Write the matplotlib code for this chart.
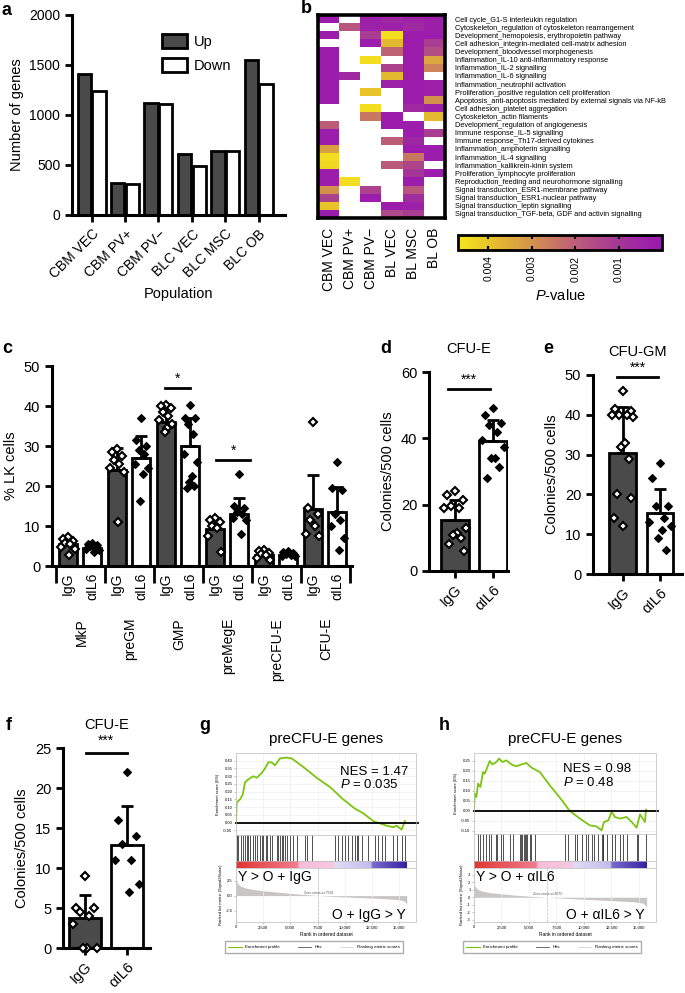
import numpy as np
import matplotlib
matplotlib.use('Agg')
import matplotlib.pyplot as plt
import matplotlib.transforms as mtransforms
from matplotlib.colors import LinearSegmentedColormap
from matplotlib.lines import Line2D

plt.rcParams['font.family'] = ['Liberation Sans', 'DejaVu Sans']
plt.rcParams['mathtext.fontset'] = 'custom'
plt.rcParams['mathtext.it'] = 'Liberation Sans:italic'
plt.rcParams['mathtext.rm'] = 'Liberation Sans'

# ---- panel a
populations = ['CBM VEC', 'CBM PV+', 'CBM PV\u2212', 'BLC VEC', 'BLC MSC', 'BLC OB']
genes_up = [1410, 315, 1120, 610, 635, 1545]
genes_down = [1235, 310, 1110, 490, 635, 1310]

# ---- panel b
hm_cols = ['CBM VEC', 'CBM PV+', 'CBM PV\u2212', 'BL VEC', 'BL MSC', 'BL OB']
hm_rows = ['Cell cycle_G1-S interleukin regulation',
           'Cytoskeleton_regulation of cytoskeleton rearrangement',
           'Development_hemopoiesis, erythropoietin pathway',
           'Cell adhesion_integrin-mediated cell-matrix adhesion',
           'Development_bloodvessel morphogenesis',
           'Inflammation_IL-10 anti-inflammatory response',
           'Inflammation_IL-2 signalling',
           'Inflammation_IL-6 signalling',
           'Inflammation_neutrophil activation',
           'Proliferation_positive regulation cell proliferation',
           'Apoptosis_anti-apoptosis mediated by external signals via NF-kB',
           'Cell adhesion_platelet aggregation',
           'Cytoskeleton_actin filaments',
           'Development_regulation of angiogenesis',
           'Immune response_IL-5 signalling',
           'Immune response_Th17-derived cytokines',
           'Inflammation_amphoterin signalling',
           'Inflammation_IL-4 signalling',
           'Inflammation_kallikrein-kinin system',
           'Proliferation_lymphocyte proliferation',
           'Reproduction_feeding and neurohormone signalling',
           'Signal transduction_ESR1-membrane pathway',
           'Signal transduction_ESR1-nuclear pathway',
           'Signal transduction_leptin signalling',
           'Signal transduction_TGF-beta, GDF and activin signalling']
N = None
hm_pvals = [
    [0.0002, N, 0.0003, 0.0006, 0.0004, 0.0003],
    [N, 0.0018, 0.0003, 0.0003, 0.0006, 0.0003],
    [0.0002, N, 0.0012, 0.0045, 0.0002, 0.0002],
    [N, N, 0.0002, 0.0038, 0.0002, 0.0012],
    [0.0002, N, N, 0.0021, 0.0002, 0.0016],
    [0.0002, N, 0.0045, N, 0.0002, 0.0034],
    [0.0002, N, N, 0.0013, 0.0002, 0.0027],
    [0.0002, 0.0006, N, 0.0038, 0.0002, N],
    [0.0002, N, N, 0.0003, 0.0002, 0.0003],
    [0.0002, N, 0.0040, N, 0.0002, 0.0003],
    [0.0002, N, N, N, 0.0002, 0.0030],
    [N, N, 0.0045, N, 0.0006, 0.0003],
    [N, N, 0.0025, 0.0002, N, 0.0038],
    [0.0020, N, N, 0.0002, 0.0002, N],
    [0.0002, N, N, N, 0.0002, 0.0012],
    [0.0002, N, N, 0.0020, 0.0005, N],
    [0.0033, N, N, N, 0.0002, 0.0002],
    [0.0045, N, N, N, 0.0025, 0.0002],
    [0.0044, N, N, 0.0019, 0.0014, N],
    [0.0002, N, N, N, 0.0010, 0.0002],
    [0.0002, 0.0045, N, N, 0.0002, N],
    [0.0030, N, 0.0013, N, 0.0018, N],
    [0.0013, N, 0.0002, N, 0.0007, N],
    [0.0040, N, N, 0.0002, 0.0003, N],
    [0.0002, N, N, 0.0015, 0.0012, N],
]
cbar_ticks = [0.004, 0.003, 0.002, 0.001]

# ---- panel c
c_groups = ['MkP', 'preGM', 'GMP', 'preMegE', 'preCFU-E', 'CFU-E']
c_treat = ['IgG', '\u03b1IL6']
c_mean = [5.5, 4.5, 24.0, 27.0, 36.0, 30.0, 9.2, 13.1, 2.8, 2.7, 14.2, 13.5]
c_sd = [1.4, 0.9, 5.5, 5.4, 4.0, 7.0, 2.8, 3.9, 0.8, 0.6, 8.5, 6.2]
c_points = [
    [7.2, 6.8, 6.2, 5.8, 5.5, 4.8, 4.2, 2.8],
    [5.8, 5.5, 5.2, 5.0, 4.6, 4.3, 4.0, 3.5],
    [29.3, 28.5, 27.5, 26.5, 25.5, 24.5, 23.5, 11.0],
    [37.0, 31.5, 30.0, 29.0, 28.0, 25.5, 24.5, 23.0, 16.3],
    [40.3, 40.0, 39.5, 38.5, 37.5, 36.5, 35.5, 34.5, 33.5],
    [40.2, 37.0, 37.0, 35.5, 33.0, 28.0, 26.0, 22.5, 21.0, 20.0, 19.5],
    [12.0, 11.5, 11.0, 10.0, 9.5, 7.5, 3.5],
    [23.0, 15.0, 14.5, 13.5, 13.0, 12.0, 11.5, 8.0],
    [4.0, 3.7, 3.3, 3.0, 2.7, 2.0, 1.5],
    [3.8, 3.5, 3.2, 3.0, 2.8, 2.6, 2.4],
    [36.0, 14.5, 13.0, 11.5, 10.0, 8.0, 7.5],
    [26.0, 19.5, 19.0, 13.0, 11.5, 10.0, 7.0, 4.0],
]

# ---- panels d, e, f
d_mean = [15.5, 39.2]
d_sd = [6.0, 6.3]
d_points = [[24, 23, 21.5, 19.5, 19, 19, 13, 11.5, 11, 10, 8, 6],
            [49, 47, 44.5, 44, 42, 39.5, 37.5, 34, 34, 31.5, 28]]
e_mean = [30.5, 15.3]
e_sd = [11.5, 6.0]
e_points = [[46, 41.5, 41, 40, 40, 40, 39.5, 33, 32, 29, 20, 19, 14, 12],
            [28, 24, 17, 17, 14, 13, 12, 11, 9, 6]]
f_mean = [3.8, 12.9]
f_sd = [2.8, 4.9]
f_points = [[9, 5, 5, 4.5, 4, 3, 0, 0, 0],
            [22, 16, 14, 13, 11, 11, 8, 7]]

# ---- panels g, h (GSEA)
g_rank = [0, 61, 368, 613, 827, 1133, 1593, 1900, 2359, 2665, 2972, 3278, 3584, 4044,
          4656, 5116, 6188, 7414, 8639, 9865, 10937, 11703, 12622, 13235, 13848,
          14460, 14767, 15226, 15532]
g_es = [0.0, 0.13, 0.15, 0.18, 0.26, 0.28, 0.30, 0.29, 0.32, 0.35, 0.39, 0.39, 0.37,
        0.415, 0.42, 0.415, 0.36, 0.29, 0.23, 0.15, 0.09, 0.06, 0.01, -0.005, -0.02,
        -0.03, -0.02, -0.045, 0.01]
g_hits = [61, 214, 429, 613, 827, 980, 1133, 1287, 1532, 1746, 1900, 2206, 2359, 2512,
          2757, 2880, 3125, 3278, 3737, 3890, 4044, 4197, 4350, 4503, 4656, 4962, 5269,
          5575, 6341, 6555, 6953, 9096, 9402, 9708, 10014, 10320, 10626, 10933, 11086,
          11239, 11545, 12158, 12770, 13076, 13382, 13688, 14454, 14760, 15219, 15525]
g_mrank = [0, 50, 150, 400, 800, 1500, 2500, 4000, 5500, 7581, 9000, 11000, 13000,
           14500, 15300, 15550, 15650, 15700]
g_metric = [3.6, 2.6, 2.0, 1.6, 1.3, 1.05, 0.8, 0.55, 0.3, 0.0, -0.15, -0.3, -0.45,
            -0.6, -0.8, -1.0, -1.3, -1.5]

h_rank = [0, 64, 216, 368, 580, 823, 975, 1127, 1430, 1673, 2038, 2280, 2584, 2948,
          3404, 3859, 4315, 4770, 5225, 5984, 6895, 7806, 8717, 9628, 10538, 11146,
          11601, 11814, 12208, 12512, 12815, 13271, 13878, 14333, 14789, 15092, 15547,
          15638]
h_es = [0.0, 0.087, 0.07, 0.137, 0.12, 0.195, 0.187, 0.207, 0.25, 0.233, 0.245, 0.262,
        0.245, 0.253, 0.233, 0.223, 0.233, 0.24, 0.217, 0.195, 0.128, 0.067, 0.0,
        -0.038, -0.072, -0.077, -0.097, -0.055, -0.047, -0.005, -0.03, -0.038, -0.03,
        -0.055, -0.083, -0.017, -0.055, 0.007]
h_hits = [368, 580, 823, 1066, 1370, 1582, 1977, 2098, 2493, 2645, 3252, 3556, 4163,
          4315, 4406, 4527, 4618, 4709, 4831, 5074, 5225, 5529, 8261, 8565, 9172, 9385,
          9779, 10174, 10387, 10690, 10903, 11297, 11601, 11692, 11753, 12056, 12512,
          12815, 13271, 13575, 13878, 14789, 14941, 15638]
h_mrank = [0, 50, 150, 400, 800, 1500, 2500, 4000, 5500, 6675, 8500, 10500, 12500,
           14500, 15400, 15600, 15700]
h_metric = [2.0, 1.6, 1.3, 1.0, 0.8, 0.6, 0.45, 0.25, 0.1, 0.0, -0.15, -0.3, -0.45,
            -0.6, -0.8, -1.1, -1.3]
n_genes = 15700

W, H = 685, 993
fig = plt.figure(figsize=(W / 100, H / 100), dpi=100)


def add_ax(l, t, r, b):
    return fig.add_axes([l / W, 1 - b / H, (r - l) / W, (b - t) / H])


def prism(ax, fs=10):
    for s in ['top', 'right']:
        ax.spines[s].set_visible(False)
    for s in ['left', 'bottom']:
        ax.spines[s].set_linewidth(2.2)
    ax.tick_params(width=2, length=5, labelsize=fs)


def letter(x, y, s):
    fig.text(x / W, 1 - y / H, s, fontsize=13, fontweight='bold', va='top', ha='left')


DARK = '#4a4a4a'
JIT = [0.0, -0.2, 0.2, -0.1, 0.1, -0.27, 0.27, 0.05, -0.05, 0.15, -0.15, 0.22, -0.22, 0.0]


def dots(ax, xc, vals, filled, spread=1.0, ms=4.5):
    xs = [xc + JIT[i] * spread for i in range(len(vals))]
    ax.plot(xs, vals, 'D', ms=ms, mfc='black' if filled else 'white', mec='black',
            mew=1.5 if not filled else 0.8, clip_on=False, zorder=5)


def sig(ax, x0, x1, y, ystar, s):
    ax.plot([x0, x1], [y, y], color='black', lw=2, clip_on=False)
    ax.text((x0 + x1) / 2, ystar, s, ha='center', va='center', fontsize=10)


# ---------------- a
letter(2, 2, 'a')
ax = add_ax(72, 15, 285, 215)
x = np.arange(len(populations))
ax.bar(x - 0.22, genes_up, width=0.4, color=DARK, edgecolor='black', lw=2, label='Up')
ax.bar(x + 0.22, genes_down, width=0.4, color='white', edgecolor='black', lw=2, label='Down')
ax.set_xlim(-0.59, 5.79)
ax.set_ylim(0, 2000)
ax.set_yticks([0, 500, 1000, 1500, 2000])
ax.set_xticks(x)
ax.set_xticklabels(populations, rotation=45, ha='right', rotation_mode='anchor')
ax.set_ylabel('Number of genes', fontsize=10.5)
ax.set_xlabel('Population', fontsize=10.5, labelpad=4)
prism(ax)
ax.legend(loc='upper left', bbox_to_anchor=(0.36, 0.97), frameon=False, fontsize=10.5,
          handlelength=1.7, handleheight=1.1, labelspacing=0.6, handletextpad=0.5)

# ---------------- b
letter(301, 0, 'b')
cmap = LinearSegmentedColormap.from_list('pv', [(0.0, '#9a18b0'), (0.21, '#a53598'),
                                                (0.43, '#bd5f78'), (0.64, '#d4924c'),
                                                (0.85, '#e8c42a'), (1.0, '#f6e61a')])
cmap.set_bad('white')
axh = add_ax(318, 15, 445, 218)
mat = np.array([[np.nan if v is None else v for v in r] for r in hm_pvals], dtype=float)
im = axh.imshow(np.ma.masked_invalid(mat), cmap=cmap, vmin=0, vmax=0.0047,
                aspect='auto', interpolation='nearest')
for s in axh.spines.values():
    s.set_linewidth(2.6)
axh.set_xticks(range(len(hm_cols)))
axh.set_xticklabels(hm_cols, rotation=90, fontsize=10)
axh.set_yticks(range(len(hm_rows)))
axh.set_yticklabels(hm_rows, fontsize=5.3)
axh.yaxis.tick_right()
axh.tick_params(length=0)
axh.tick_params(axis='y', pad=7)
axh.tick_params(axis='x', pad=7)

cax = add_ax(458, 235, 662, 250)
cb = fig.colorbar(im, cax=cax, orientation='horizontal')
cax.invert_xaxis()
cb.set_ticks(cbar_ticks)
cb.set_ticklabels(['%.3f' % t for t in cbar_ticks])
cb.outline.set_linewidth(2)
cax.tick_params(labelsize=7.5, rotation=90, direction='in', length=3, width=1.5,
                top=True, pad=4)
cax.set_xlabel('$P$-value', fontsize=10.5, labelpad=5)

# ---------------- c
letter(2, 340, 'c')
axc = add_ax(52, 366, 352, 566)
xc = np.arange(len(c_mean))
colors = [DARK if i % 2 == 0 else 'white' for i in xc]
axc.bar(xc, c_mean, width=0.74, color=colors, edgecolor='black', lw=2, zorder=2)
axc.errorbar(xc, c_mean, yerr=[np.zeros(len(c_sd)), c_sd], fmt='none', ecolor='black',
             elinewidth=2, capsize=4, capthick=2, zorder=3)
for i, pts in enumerate(c_points):
    dots(axc, xc[i], pts, filled=(i % 2 == 1), spread=1.0, ms=4.3)
axc.set_xlim(-0.65, 11.6)
axc.set_ylim(0, 50)
axc.set_yticks([0, 10, 20, 30, 40, 50])
axc.set_ylabel('% LK cells', fontsize=10.5)
prism(axc, fs=10.5)
axc.set_xticks(np.arange(-0.5, 12, 2))
axc.set_xticklabels([])
axc.tick_params(axis='x', which='major', length=12, width=2)
axc.set_xticks(xc, minor=True)
axc.set_xticklabels(c_treat * len(c_groups), minor=True, rotation=90, fontsize=10)
axc.tick_params(axis='x', which='minor', length=0, pad=5)
trans = mtransforms.blended_transform_factory(axc.transData, axc.transAxes)
for g, name in enumerate(c_groups):
    axc.text(2 * g + 0.55, -0.26, name, rotation=90, ha='center', va='top',
             fontsize=10, transform=trans)
sig(axc, 3.97, 4.99, 44.5, 46.8, '*')
sig(axc, 6.05, 7.45, 26.5, 28.8, '*')

# ---------------- d, e, f


def small_panel(l, t, r, b, xlim, ylim, yticks, mean, sd, pts, title, bw, sigx, sigy):
    ax = add_ax(l, t, r, b)
    xs = np.arange(2)
    ax.bar(xs, mean, width=bw, color=[DARK, 'white'], edgecolor='black', lw=2, zorder=2)
    ax.errorbar(xs, mean, yerr=[[0, 0], sd], fmt='none', ecolor='black', elinewidth=2,
                capsize=4.5, capthick=2, zorder=3)
    for i in range(2):
        dots(ax, xs[i], pts[i], filled=(i == 1), spread=1.05)
    ax.set_xlim(*xlim)
    ax.set_ylim(*ylim)
    ax.set_yticks(yticks)
    ax.set_xticks(xs)
    ax.set_xticklabels(c_treat, rotation=45, ha='right', rotation_mode='anchor')
    ax.set_ylabel('Colonies/500 cells', fontsize=10.5)
    ax.set_title(title, fontsize=10.5, pad=14)
    prism(ax, fs=10.5)
    sig(ax, sigx[0], sigx[1], sigy[0], sigy[1], '***')
    return ax


letter(380, 340, 'd')
small_panel(429, 372, 508, 571, (-0.68, 1.39), (0, 60), [0, 20, 40, 60], d_mean, d_sd,
            d_points, 'CFU-E', 0.73, (-0.18, 0.92), (54.8, 57.6))
letter(543, 340, 'e')
small_panel(593, 375, 682, 574, (-0.80, 1.59), (0, 50), [0, 10, 20, 30, 40, 50], e_mean,
            e_sd, e_points, 'CFU-GM', 0.72, (-0.16, 0.95), (49.4, 51.8))
letter(6, 717, 'f')
small_panel(63, 748, 150, 948, (-0.52, 1.55), (0, 25), [0, 5, 10, 15, 20, 25], f_mean,
            f_sd, f_points, 'CFU-E', 0.76, (0.02, 1.0), (24.4, 25.9))

# ---------------- g, h


def gsea(x0, x1, es_bot, title, rank, es, hits, mrank, metric, zc, es_ticks, es_lim,
         m_ticks, m_lim, m_fmt, nes_xy, nes, pval, up_lab, down_lab, up_x, down_x):
    xmax = 16550
    fig.text((x0 + x1) / 2 / W, 1 - 739 / H, title, fontsize=11, ha='center', va='center')
    a1 = add_ax(x0, 753, x1, es_bot)
    a1.plot(rank, es, color='#7cc410', lw=1.3)
    a1.axhline(0, xmin=0, xmax=1.012, color='black', lw=1.3, clip_on=False)
    a1.set_xlim(0, xmax)
    a1.set_ylim(*es_lim)
    a1.set_yticks(es_ticks)
    a1.set_yticklabels(['%.2f' % v for v in es_ticks])
    a1.set_xticks([0, 2500, 5000, 7500, 10000, 12500, 15000])
    a1.set_xticklabels([])
    a1.grid(color='#eeeeee', lw=0.5)
    a1.set_axisbelow(True)
    a1.set_ylabel('Enrichment score (ES)', fontsize=3, labelpad=2)
    a2 = add_ax(x0, es_bot, x1, 861)
    a2.vlines(hits, 0, 1, color='#333333', lw=0.6)
    a2.set_xlim(0, xmax)
    a2.set_ylim(0, 1)
    a2.set_xticks([])
    a2.set_yticks([])
    a3 = add_ax(x0, 861, x1, 868)
    strip = LinearSegmentedColormap.from_list('s', [(0, '#e03535'), (0.36, '#f27d8d'),
                                                    (0.37, '#f8bcd8'), (0.57, '#f6c8e2'),
                                                    (0.58, '#e0dcf6'), (0.79, '#c4bcec'),
                                                    (0.80, '#7a6cd0'), (1.0, '#3422a0')])
    a3.imshow(np.linspace(0, 1, 300)[None, :], cmap=strip, aspect='auto',
              extent=[0, n_genes, 0, 1])
    a3.set_xlim(0, xmax)
    a3.set_ylim(0, 1)
    a3.set_xticks([])
    a3.set_yticks([])
    a4 = add_ax(x0, 868, x1, 922)
    a4.fill_between(mrank, metric, 0, color='#c9c5c5', lw=0)
    a4.axvline(zc, color='#bbbbbb', lw=0.5, ls='--')
    a4.text(zc, 0.15, 'Zero cross at %d' % zc, fontsize=2.5, ha='center', va='bottom',
            color='#555555')
    a4.set_xlim(0, xmax)
    a4.set_ylim(*m_lim)
    a4.set_yticks(m_ticks)
    a4.set_yticklabels([m_fmt % v for v in m_ticks])
    a4.set_xticks([0, 2500, 5000, 7500, 10000, 12500, 15000])
    a4.set_xticklabels(['0', '2,500', '5,000', '7,500', '10,000', '12,500', '15,000'])
    a4.grid(axis='x', color='#eeeeee', lw=0.5)
    a4.set_xlabel('Rank in ordered dataset', fontsize=3.5, labelpad=2)
    a4.set_ylabel('Ranked list metric (Signal2Noise)', fontsize=3, labelpad=2)
    for a in [a1, a2, a3, a4]:
        for s in a.spines.values():
            s.set_color('#bbbbbb')
            s.set_linewidth(0.5)
        a.tick_params(labelsize=3, length=1.5, width=0.4, pad=1, color='#999999')
    fig.text(up_x / W, 1 - 877 / H, up_lab, fontsize=10, ha='left', va='center')
    fig.text(down_x / W, 1 - 915 / H, down_lab, fontsize=10, ha='right', va='center')
    fig.text(nes_xy[0] / W, 1 - nes_xy[1] / H, 'NES = ' + nes, fontsize=9.5, va='center')
    fig.text(nes_xy[0] / W, 1 - (nes_xy[1] + 13) / H, '$P$ = ' + pval, fontsize=9.5,
             va='center')
    handles = [Line2D([], [], color='#7cc410', lw=0.8), Line2D([], [], color='#333333', lw=0.5),
               Line2D([], [], color='#cccccc', lw=0.5)]
    fig.legend(handles, ['Enrichment profile', 'Hits', 'Ranking metric scores'],
               loc='center', bbox_to_anchor=((x0 + 78) / W, 1 - 947 / H), ncol=3,
               fontsize=3.2, frameon=True, fancybox=False, edgecolor='#999999',
               handlelength=3, columnspacing=4, borderpad=0.8)


letter(199, 717, 'g')
gsea(236, 416, 835, 'preCFU-E genes', g_rank, g_es, g_hits, g_mrank, g_metric, 7581,
     [-0.05, 0, 0.05, 0.1, 0.15, 0.2, 0.25, 0.3, 0.35, 0.4], (-0.08, 0.45),
     [-2.5, 0, 2.5], (-4.4, 4.6), '%.1f', (340, 772), '1.47', '0.035',
     'Y > O + IgG', 'O + IgG > Y', 238, 406)
letter(439, 717, 'h')
gsea(474, 656, 834, 'preCFU-E genes', h_rank, h_es, h_hits, h_mrank, h_metric, 6675,
     [-0.1, -0.05, 0, 0.05, 0.1, 0.15, 0.2, 0.25], (-0.115, 0.29),
     [-3, -2, -1, 0, 1, 2, 3], (-3.3, 3.9), '%d', (563, 769), '0.98', '0.48',
     'Y > O + \u03b1IL6', 'O + \u03b1IL6 > Y', 476, 645)

plt.savefig('out.png', dpi=100)
